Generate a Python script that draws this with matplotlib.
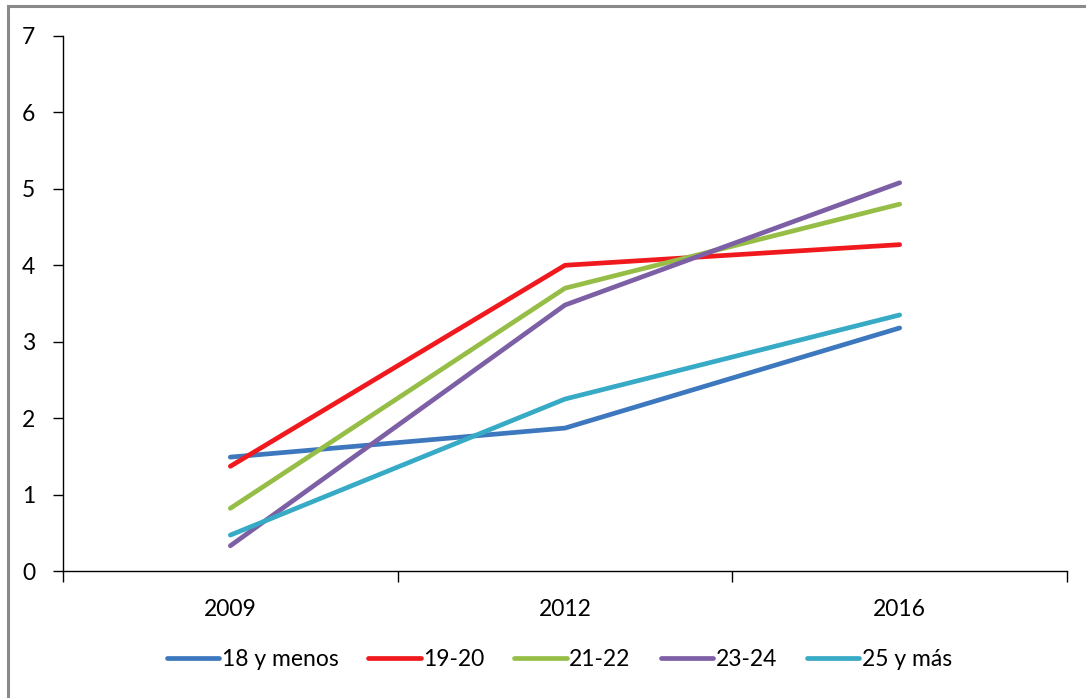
import numpy as np
import matplotlib
matplotlib.use("Agg")
import matplotlib.pyplot as plt
from matplotlib.patches import Rectangle

plt.rcParams['font.family'] = ['Lato', 'DejaVu Sans']

# data
years = ["2009", "2012", "2016"]
labels = ["18 y menos", "19-20", "21-22", "23-24", "25 y más"]
s18 = [1.49, 1.87, 3.18]
s1920 = [1.37, 4.00, 4.27]
s2122 = [0.82, 3.70, 4.80]
s2324 = [0.33, 3.48, 5.08]
s25 = [0.47, 2.25, 3.35]
colors = ["#3D78BE", "#F0191E", "#96BE46", "#7D5FA5", "#37AAC6"]

fig = plt.figure(figsize=(10.86, 6.98), dpi=100)
ax = fig.add_axes([63/1086, 1 - 571/698, (1067-63)/1086, (571-36)/698])

x = np.arange(len(years))
for vals, lab, c in zip([s18, s1920, s2122, s2324, s25], labels, colors):
    ax.plot(x, vals, color=c, lw=3.4, label=lab, solid_capstyle='round')

ax.set_xlim(-0.5, len(years) - 0.5)
ax.set_ylim(0, 7)
ax.set_yticks(range(0, 8))
ax.set_xticks(np.arange(-0.5, len(years)), labels=[])
ax.set_xticks(x, labels=years, minor=True)
ax.tick_params(axis='x', which='major', length=8, width=1, direction='out')
ax.tick_params(axis='x', which='minor', length=0, pad=20, labelsize=16.5)
ax.tick_params(axis='y', length=7, width=1, direction='out', pad=13, labelsize=16.5)
for s in ['top', 'right']:
    ax.spines[s].set_visible(False)
for s in ['left', 'bottom']:
    ax.spines[s].set_linewidth(1)

fig.legend(loc='center', bbox_to_anchor=(0.515, 1 - 660/698), ncol=5, frameon=False,
           fontsize=16.5, handlelength=2.3, handletextpad=0.1, columnspacing=1.3)

# outer chart frame (cropped on the right and bottom)
fig.patches.append(Rectangle((8/1086, -0.2), 1.5, 1.2 - 6/698, transform=fig.transFigure,
                             fill=False, edgecolor='#8a8a8a', lw=2.2, clip_on=False))

fig.savefig("out.png", dpi=100)
